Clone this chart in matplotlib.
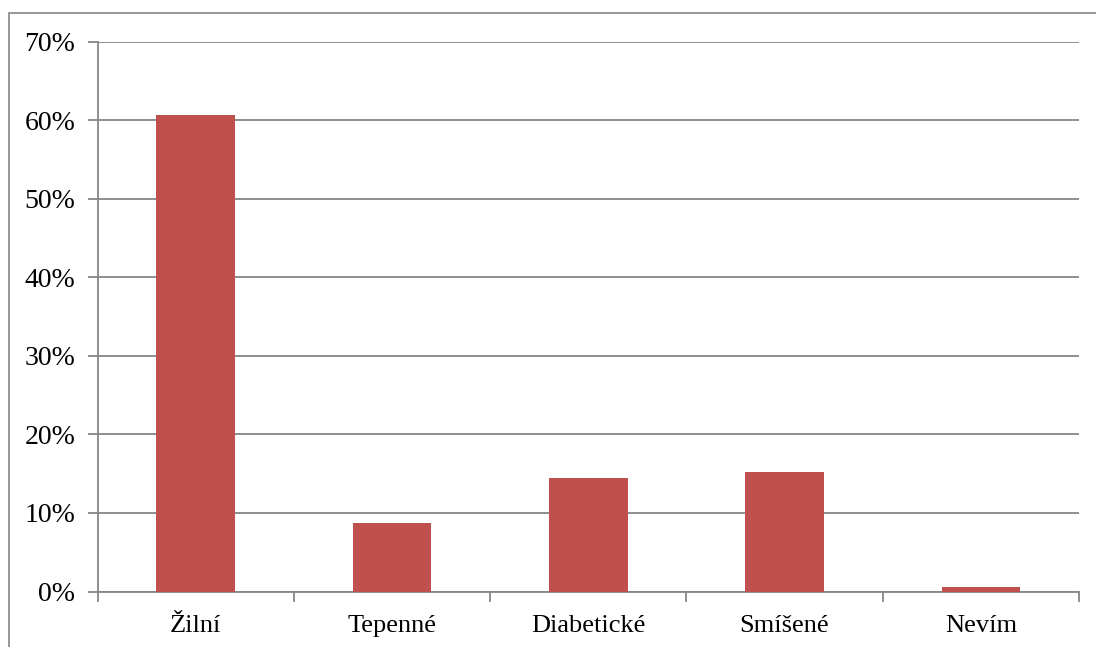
import matplotlib
matplotlib.use("Agg")
import matplotlib.pyplot as plt
from matplotlib.patches import Rectangle
from matplotlib.ticker import FixedLocator, NullFormatter

categories = ["Žilní", "Tepenné", "Diabetické", "Smíšené", "Nevím"]
values = [60.6, 8.7, 14.5, 15.2, 0.6]
y_ticks = [0, 10, 20, 30, 40, 50, 60, 70]
y_labels = ["0%", "10%", "20%", "30%", "40%", "50%", "60%", "70%"]

W, H = 1096, 647
fig = plt.figure(figsize=(W / 100, H / 100), dpi=100)
plt.rcParams["font.family"] = ["Liberation Serif", "DejaVu Serif"]

grey = "#868686"

# outer chart-area frame
fig.patches.append(Rectangle((8.5 / W, -0.1), 1.2, 1 - 12.5 / H + 0.1,
                             transform=fig.transFigure, fill=False,
                             edgecolor=grey, linewidth=1.2))

left, right, top, bottom = 97.5, 1079, 41.5, 591.5
ax = fig.add_axes([left / W, 1 - bottom / H, (right - left) / W, (bottom - top) / H])

x = list(range(len(categories)))
ax.bar(x, values, width=0.4, color="#C0504D", zorder=3)

ax.set_xlim(-0.5, len(categories) - 0.5)
ax.set_ylim(0, 70)
ax.set_yticks(y_ticks)
ax.set_yticklabels(y_labels, fontsize=20)
ax.yaxis.grid(True, color=grey, linewidth=1.3, zorder=0)

ax.set_xticks(x)
ax.set_xticklabels(categories, fontsize=19)
ax.tick_params(axis="x", length=0, pad=17)
ax.xaxis.set_minor_locator(FixedLocator([i + 0.5 for i in range(-1, len(categories))]))
ax.xaxis.set_minor_formatter(NullFormatter())
ax.tick_params(axis="x", which="minor", length=7, color=grey, width=1.3)
ax.tick_params(axis="y", length=7, color=grey, width=1.3, pad=9)

for s in ["top", "right"]:
    ax.spines[s].set_visible(False)
for s in ["left", "bottom"]:
    ax.spines[s].set_color(grey)
    ax.spines[s].set_linewidth(1.3)

fig.savefig("out.png", dpi=100)
